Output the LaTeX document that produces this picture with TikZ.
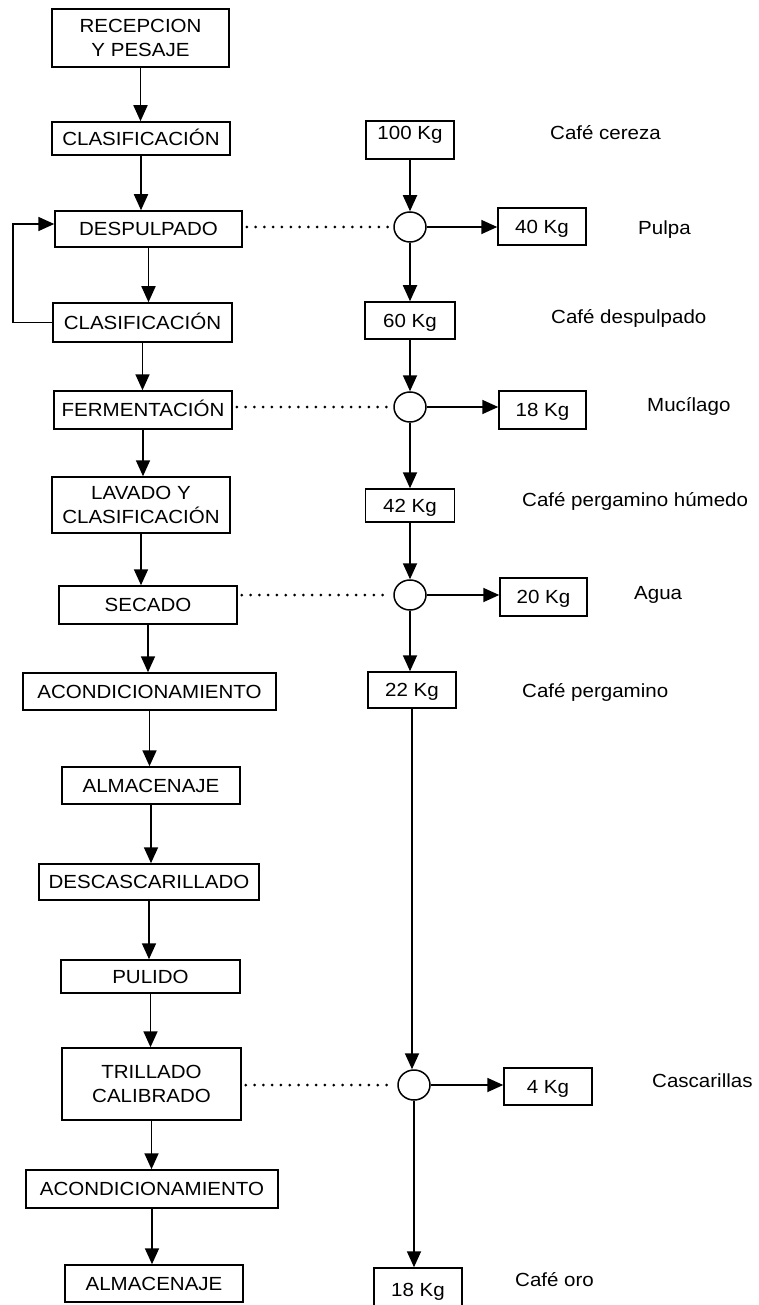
\documentclass[tikz,border=0pt]{standalone}
\usepackage{fontspec}
\setmainfont{Liberation Sans}[FakeStretch=1.08]
\usetikzlibrary{arrows.meta,shapes.geometric}
\begin{document}
\begin{tikzpicture}[x=1pt,y=-1pt,
  every node/.style={font=\fontsize{19}{24.5}\selectfont},
  box/.style={draw, line width=1.5pt, inner sep=0pt, text height=13.6pt, text depth=0pt},
  mbox/.style={draw, line width=1.5pt, inner sep=0pt, align=center},
  junc/.style={draw, line width=1.5pt, ellipse, minimum width=32pt, minimum height=30pt, inner sep=0pt},
  arr/.style={line width=1.8pt, -{Triangle[width=14pt,length=16pt]}},
  dots/.style={line width=3pt, line cap=round, dash pattern=on 0pt off 8.8pt, shorten <=4pt, shorten >=3pt},
  lbl/.style={anchor=base west, inner sep=0pt}]
\useasboundingbox (0,0) rectangle (758,1305);
% left column
\node[mbox, minimum width=177pt, minimum height=58pt] (rec) at (140.5,38) {RECEPCION\\Y PESAJE};
\node[box, minimum width=178pt, minimum height=33pt] (cla1) at (141,138.5) {CLASIFICACIÓN};
\node[box, minimum width=187pt, minimum height=36pt] (desp) at (148.5,229) {DESPULPADO};
\node[box, minimum width=179pt, minimum height=39pt] (cla2) at (142.5,322.5) {CLASIFICACIÓN};
\node[box, minimum width=178pt, minimum height=38pt] (ferm) at (143,410) {FERMENTACIÓN};
\node[mbox, minimum width=178pt, minimum height=56pt] (lav) at (141,505) {LAVADO Y\\CLASIFICACIÓN};
\node[box, minimum width=178pt, minimum height=38pt] (sec) at (148,605) {SECADO};
\node[box, minimum width=253pt, minimum height=37pt] (aco1) at (149.5,691.5) {ACONDICIONAMIENTO};
\node[box, minimum width=178pt, minimum height=37pt] (alm1) at (151,785.5) {ALMACENAJE};
\node[box, minimum width=220pt, minimum height=36pt] (desc) at (149,882) {DESCASCARILLADO};
\node[box, minimum width=179pt, minimum height=33pt] (pul) at (150.5,976.5) {PULIDO};
\node[mbox, minimum width=179pt, minimum height=72pt] (tri) at (151.5,1084) {TRILLADO\\CALIBRADO};
\node[box, minimum width=252pt, minimum height=38pt] (aco2) at (152,1189) {ACONDICIONAMIENTO};
\node[box, minimum width=178pt, minimum height=37pt] (alm2) at (154,1283.5) {ALMACENAJE};
% right column
\node[box, text depth=14pt, minimum width=88pt, minimum height=38pt] (k100) at (410,140) {100 Kg};
\node[junc] (c1) at (410,227) {};
\node[box, minimum width=88pt, minimum height=37pt] (k40) at (542,226.5) {40 Kg};
\node[box, minimum width=90pt, minimum height=37pt] (k60) at (410,320.5) {60 Kg};
\node[junc] (c2) at (410,407) {};
\node[box, minimum width=87pt, minimum height=38pt] (k18a) at (542.5,410) {18 Kg};
\node[box, minimum width=89pt, minimum height=33pt] (k42) at (410,505.5) {42 Kg};
\node[junc] (c3) at (410,595) {};
\node[box, minimum width=87pt, minimum height=38pt] (k20) at (543.5,597) {20 Kg};
\node[box, minimum width=88pt, minimum height=36pt] (k22) at (412,690) {22 Kg};
\node[junc] (c4) at (414,1085) {};
\node[box, minimum width=88pt, minimum height=37pt] (k4) at (548,1086.5) {4 Kg};
\node[box, minimum width=88pt, minimum height=44pt] (k18b) at (418,1290) {18 Kg};
% labels
\node[lbl] (l1) at (550,139.5) {Café cereza};
\node[lbl] (l2) at (638,234.5) {Pulpa};
\node[lbl] (l3) at (551,323.5) {Café despulpado};
\node[lbl] (l4) at (647,411.5) {Mucílago};
\node[lbl] (l5) at (522,506.5) {Café pergamino húmedo};
\node[lbl] (l6) at (634,599.5) {Agua};
\node[lbl] (l7) at (522,697.5) {Café pergamino};
\node[lbl] (l8) at (652,1087.5) {Cascarillas};
\node[lbl] (l9) at (515,1286.5) {Café oro};
% connectors
\foreach \a/\b in {rec/cla1, cla1/desp, desp/cla2, cla2/ferm, ferm/lav, lav/sec, sec/aco1, aco1/alm1, alm1/desc, desc/pul, pul/tri, tri/aco2, aco2/alm2}
  \draw[arr] (\a.south) -- (\a.south |- \b.north);
\foreach \a/\b in {k100/c1, c1/k60, k60/c2, c2/k42, k42/c3, c3/k22, k22/c4, c4/k18b}
  \draw[arr] (\a.south) -- (\a.south |- \b.north);
\foreach \a/\b in {c1/k40, c2/k18a, c3/k20, c4/k4}
  \draw[arr] (\a.east) -- (\a.east -| \b.west);
\foreach \a/\b in {desp/c1, ferm/c2, sec/c3, tri/c4}
  \draw[dots] (\b.west -| \a.east) -- (\b.west);
\draw[arr] (cla2.west) -- ++(-39,0) |- ([yshift=5pt]desp.west);
\end{tikzpicture}
\end{document}
